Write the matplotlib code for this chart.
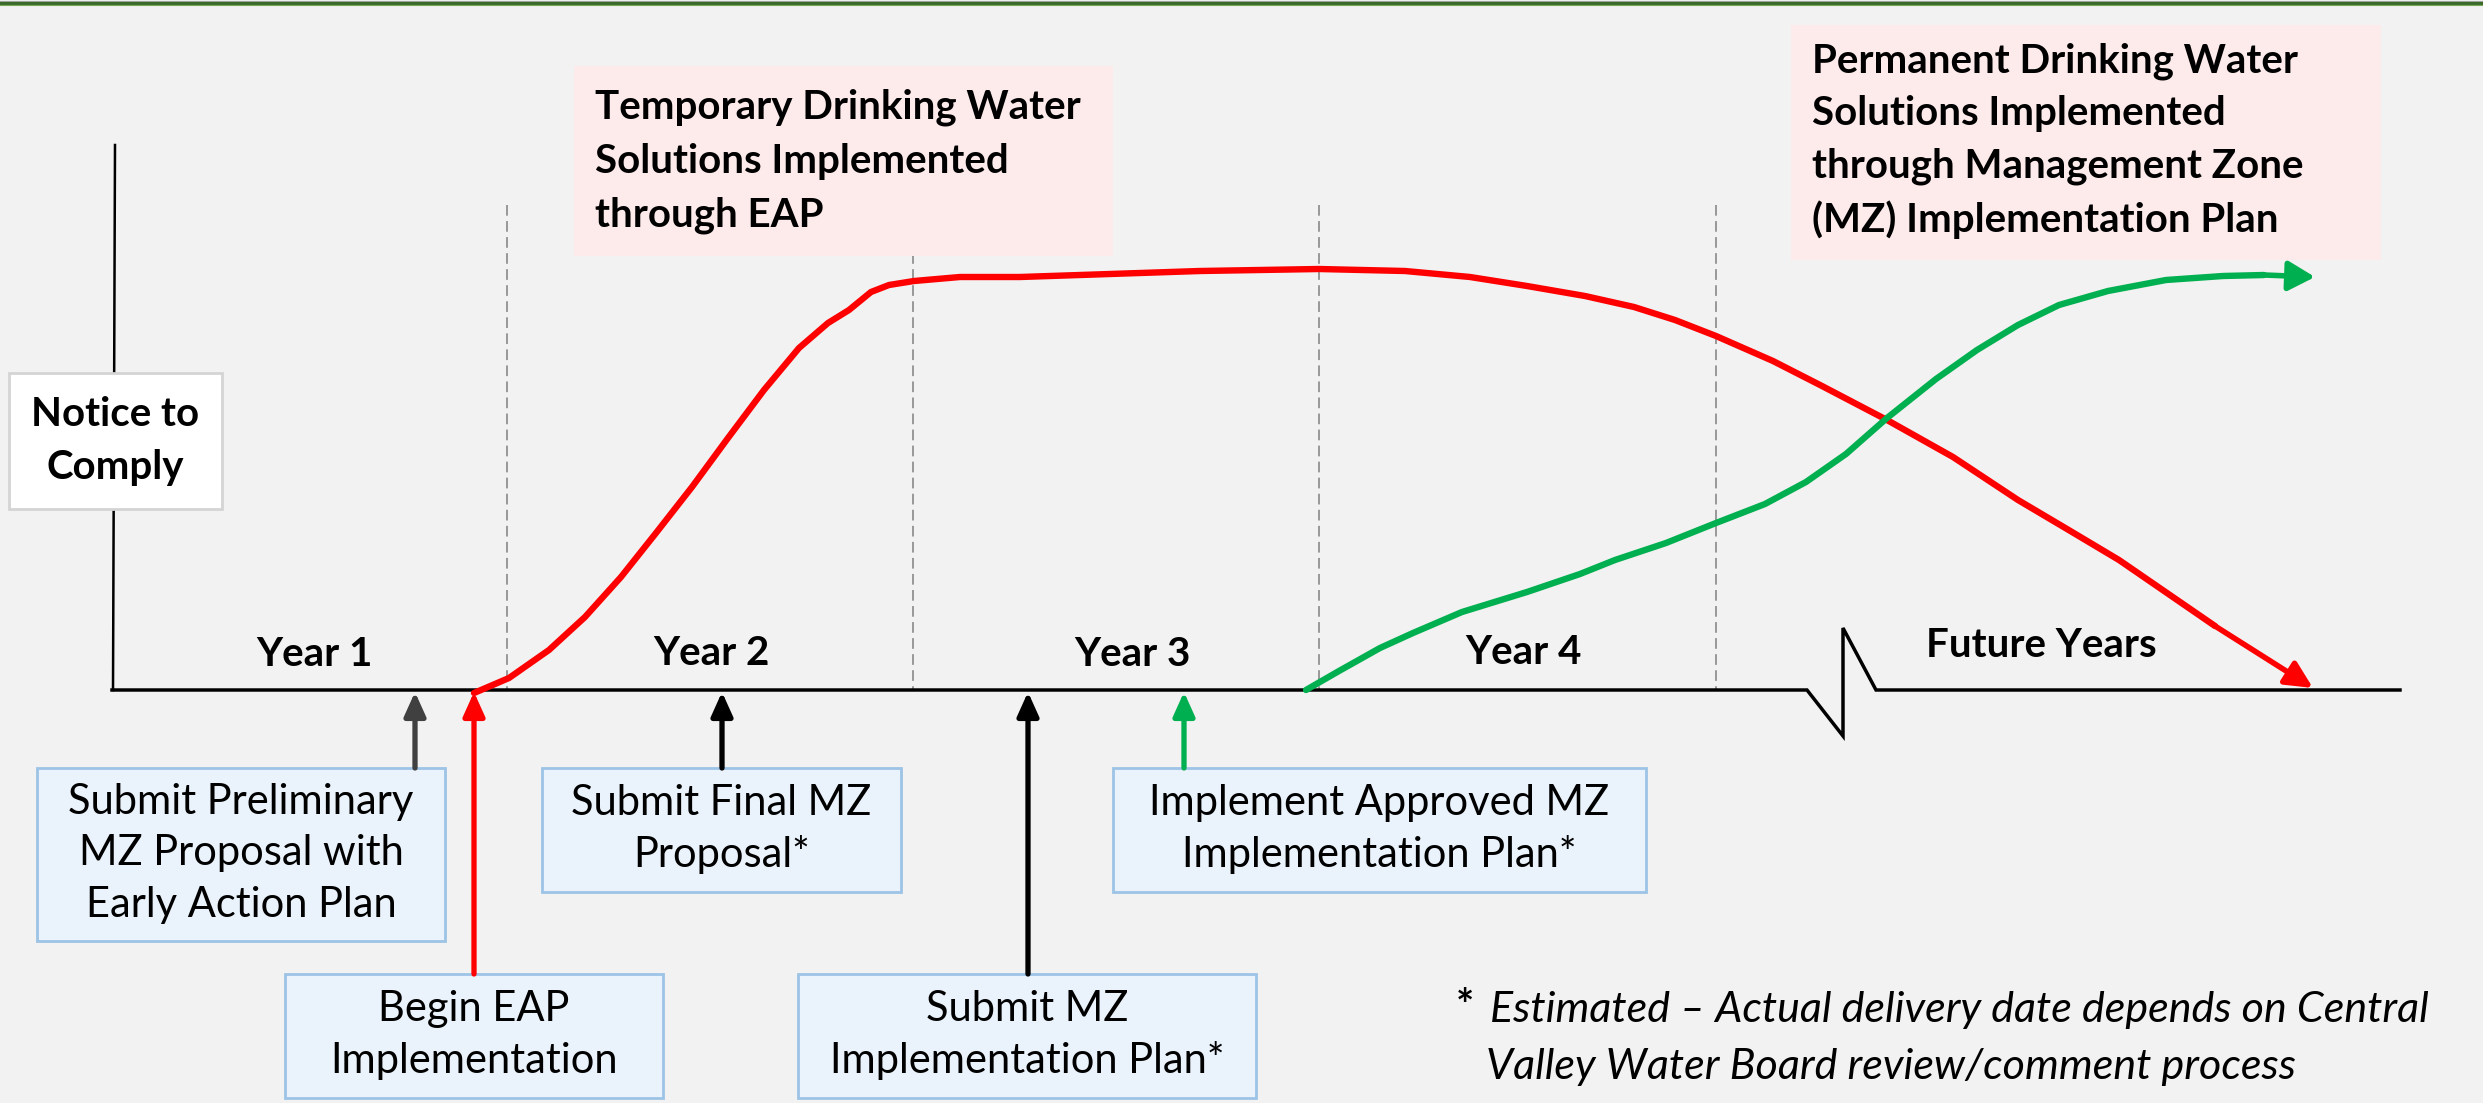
import matplotlib
matplotlib.use('Agg')
import matplotlib.pyplot as plt
from matplotlib.patches import Rectangle, FancyArrowPatch

# canvas in pixel units (x right, y down)
W, H = 2483, 1103
BASE_Y = 690

# timeline periods
years = ['Year 1', 'Year 2', 'Year 3', 'Year 4', 'Future Years']
year_x = [314, 711, 1132, 1523, 2041]
year_y = [666, 665, 666, 664, 657]
divider_x = [507, 913, 1319, 1716]

# milestones below the timeline
milestones = [
    'Submit Preliminary\nMZ Proposal with\nEarly Action Plan',
    'Begin EAP\nImplementation',
    'Submit Final MZ\nProposal*',
    'Submit MZ\nImplementation Plan*',
    'Implement Approved MZ\nImplementation Plan*',
]
milestone_x = [415, 474, 722, 1028, 1184]
milestone_colors = ['#404040', '#ff0000', '#000000', '#000000', '#00b050']
milestone_boxes = [(37, 768, 445, 941), (285, 974, 663, 1098), (542, 768, 901, 892),
                   (798, 974, 1256, 1098), (1113, 768, 1646, 892)]

# temporary (EAP) solutions curve
red_x = [474, 509, 549, 585, 621, 656, 692, 728, 764, 799, 828, 849, 871, 889, 914,
         960, 1020, 1200, 1319, 1405, 1470, 1527, 1585, 1634, 1675, 1716, 1773, 1822,
         1887, 1953, 2018, 2067, 2119, 2215, 2313]
red_y = [693, 678, 650, 617, 577, 533, 487, 438, 390, 348, 323, 310, 292, 285, 281,
         277, 277, 271, 269, 271, 277, 286, 296, 307, 320, 336, 361, 386,
         420, 457, 500, 529, 560, 626, 688]

# permanent (MZ) solutions curve
green_x = [1306, 1339, 1380, 1413, 1462, 1527, 1580, 1615, 1666, 1716, 1765, 1806, 1846,
           1887, 1936, 1977, 2018, 2059, 2108, 2166, 2223, 2264, 2315]
green_y = [690, 671, 648, 633, 612, 592, 574, 560, 543, 523, 504, 482, 454,
           418, 379, 350, 325, 305, 291, 280, 276, 275, 277]

temp_label = 'Temporary Drinking Water\nSolutions Implemented\nthrough EAP'
perm_label = ('Permanent Drinking Water\nSolutions Implemented\n'
              'through Management Zone\n(MZ) Implementation Plan')
footnote = ['Estimated \u2013 Actual delivery date depends on Central',
            'Valley Water Board review/comment process']

FONT = 'Lato'
plt.rcParams['font.family'] = [FONT, 'DejaVu Sans']

fig = plt.figure(figsize=(W / 100, H / 100), dpi=100, facecolor='#f2f2f2')
ax = fig.add_axes([0, 0, 1, 1])
ax.set_xlim(0, W)
ax.set_ylim(H, 0)
ax.axis('off')
ax.set_facecolor('#f2f2f2')

# slide header line
ax.axhline(0.8, color='#b0b0b0', lw=0.8)
ax.axhline(3.3, color='#3b6b2c', lw=2.4)
ax.axhline(5.3, color='#78a858', lw=0.8)


def box(x0, y0, x1, y1, fc, ec, lw=1.5, z=3):
    ax.add_patch(Rectangle((x0, y0), x1 - x0, y1 - y0, fc=fc, ec=ec, lw=lw, zorder=z))


# axes of the timeline
ax.plot([115, 113], [145, BASE_Y], color='black', lw=1.8, zorder=2)
ax.plot([112, 1807, 1843, 1843, 1876, 2400],
        [BASE_Y, BASE_Y, 736, 628, BASE_Y, BASE_Y], color='black', lw=2.5, zorder=2,
        solid_joinstyle='miter')
for x in divider_x:
    ax.plot([x, x], [205, BASE_Y], color='#808080', lw=1.1, ls=(0, (7, 3.5)), zorder=1)

# notice to comply
box(9, 373, 222, 509, 'white', '#d4d4d4', lw=2)
ax.text(115, 441, 'Notice to\nComply', ha='center', va='center', fontsize=29,
        fontweight='bold', linespacing=1.55, zorder=4)

# year labels
for lab, x, y in zip(years, year_x, year_y):
    ax.text(x, y, lab, ha='center', va='baseline', fontsize=29, fontweight='bold', zorder=4)

# callout boxes
box(574, 66, 1113, 256, '#fdebeb', 'none', lw=0)
ax.text(595, 161, temp_label, ha='left', va='center', fontsize=29, fontweight='bold',
        linespacing=1.55, zorder=4)
box(1791, 25, 2381, 260, '#fdebeb', 'none', lw=0)
ax.text(1812, 141, perm_label, ha='left', va='center', fontsize=29, fontweight='bold',
        linespacing=1.5, zorder=4)

# milestones
for lab, x, c, (x0, y0, x1, y1) in zip(milestones, milestone_x, milestone_colors, milestone_boxes):
    box(x0, y0, x1, y1, '#eaf2fb', '#9dc3e6', lw=2)
    ax.text((x0 + x1) / 2, (y0 + y1) / 2 - 1, lab, ha='center', va='center', fontsize=30,
            linespacing=1.42, zorder=4)
    ax.add_patch(FancyArrowPatch((x, y0), (x, BASE_Y + 2),
                                 arrowstyle='-|>,head_length=0.4,head_width=0.18',
                                 mutation_scale=36, lw=3.8, color=c,
                                 shrinkA=0, shrinkB=0, zorder=3))

# solution curves
ax.plot(red_x[:-1], red_y[:-1], color='#ff0000', lw=4.6, solid_capstyle='round',
        solid_joinstyle='round', zorder=5)
ax.add_patch(FancyArrowPatch((red_x[-2], red_y[-2]), (red_x[-1], red_y[-1]),
                             arrowstyle='-|>,head_length=0.45,head_width=0.22',
                             mutation_scale=36, lw=4.0, color='#ff0000',
                             shrinkA=0, shrinkB=0, zorder=5))
ax.plot(green_x[:-1], green_y[:-1], color='#00b050', lw=4.6, solid_capstyle='round',
        solid_joinstyle='round', zorder=5)
ax.add_patch(FancyArrowPatch((green_x[-2], green_y[-2]), (green_x[-1], green_y[-1]),
                             arrowstyle='-|>,head_length=0.45,head_width=0.25',
                             mutation_scale=36, lw=4.0, color='#00b050',
                             shrinkA=0, shrinkB=0, zorder=5))

# footnote
ax.text(1456, 1020, '*', ha='left', va='baseline', fontsize=31, fontweight='bold')
ax.text(1490, 1022, footnote[0], ha='left', va='baseline', fontsize=31, style='italic')
ax.text(1486, 1079, footnote[1], ha='left', va='baseline', fontsize=31, style='italic')

fig.savefig('out.png', dpi=100, facecolor=fig.get_facecolor())
